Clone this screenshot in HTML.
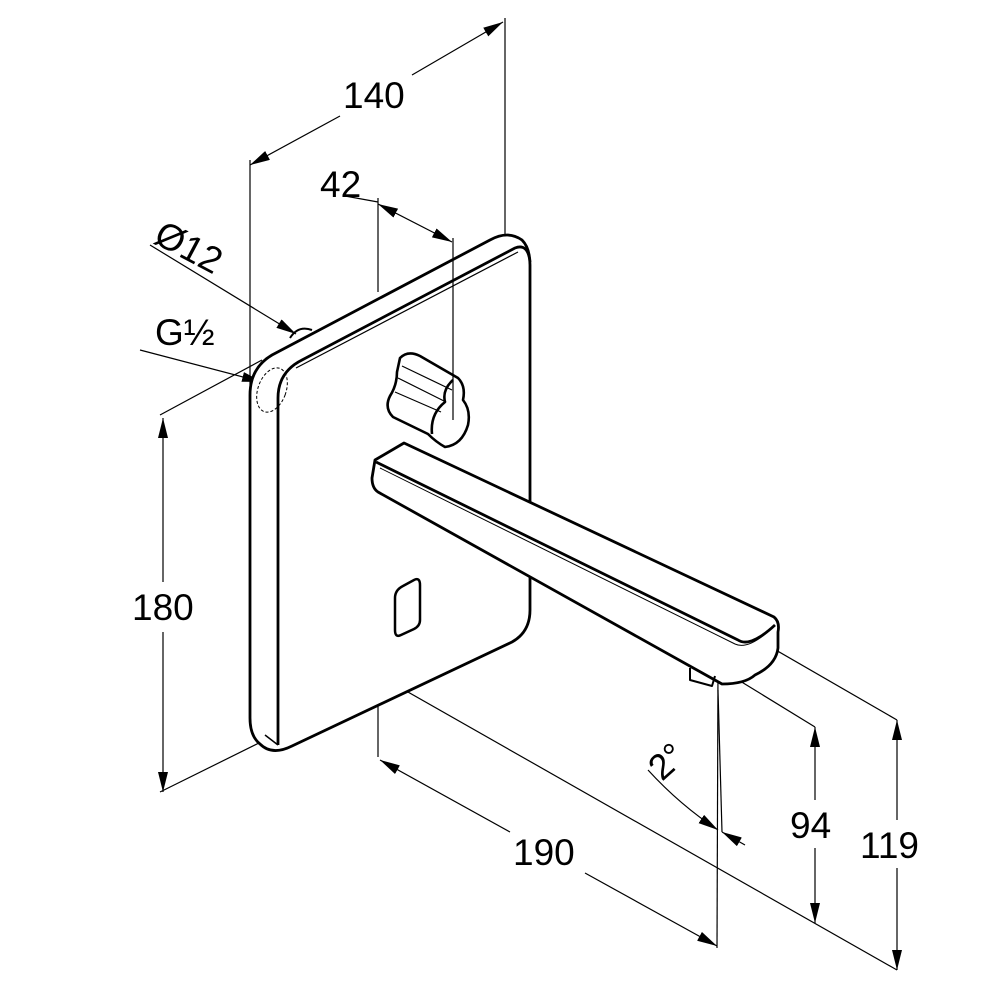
<!DOCTYPE html>
<html><head><style>html,body{margin:0;padding:0;background:#fff}svg{display:block}text{font-family:"Liberation Sans",Arial,sans-serif;fill:#000}</style></head>
<body>
<svg width="1000" height="1000" viewBox="0 0 1000 1000" xmlns="http://www.w3.org/2000/svg">
<defs>
<marker id="a" viewBox="0 0 20 10" refX="20" refY="5" markerWidth="20" markerHeight="10" markerUnits="userSpaceOnUse" orient="auto-start-reverse"><path d="M0,0 L20,5 L0,10 Z" fill="#000"/></marker>
</defs>
<g fill="none" stroke="#000">
<g stroke-width="1.2">
<line x1="250" y1="160" x2="250" y2="385"/>
<line x1="505" y1="18" x2="505" y2="238"/>
<line x1="378" y1="198" x2="378" y2="292"/>
<line x1="160" y1="415" x2="262" y2="360"/>
<line x1="160" y1="792" x2="265" y2="740"/>
<line x1="378" y1="672" x2="378" y2="757"/>
<line x1="378" y1="675" x2="897" y2="970"/>
<line x1="718" y1="668" x2="717" y2="948"/>
<line x1="718" y1="690" x2="722" y2="832"/>
<line x1="740" y1="681" x2="815" y2="727"/>
<line x1="762" y1="642" x2="897" y2="720"/>
<line x1="345" y1="196" x2="378" y2="202"/>
</g>
<g stroke-width="1.2">
<line x1="250" y1="165" x2="340" y2="116" marker-start="url(#a)"/>
<line x1="412" y1="75" x2="503" y2="22" marker-end="url(#a)"/>
<line x1="378" y1="204" x2="452" y2="242" marker-start="url(#a)" marker-end="url(#a)"/>
<line x1="150" y1="245" x2="296" y2="334" marker-end="url(#a)"/>
<line x1="140" y1="350" x2="262" y2="382" marker-end="url(#a)"/>
<line x1="163" y1="418" x2="163" y2="582" marker-start="url(#a)"/>
<line x1="163" y1="632" x2="163" y2="792" marker-end="url(#a)"/>
<line x1="380" y1="760" x2="510" y2="832" marker-start="url(#a)"/>
<line x1="585" y1="873" x2="717" y2="946" marker-end="url(#a)"/>
<line x1="815" y1="727" x2="815" y2="800" marker-start="url(#a)"/>
<line x1="815" y1="848" x2="815" y2="923" marker-end="url(#a)"/>
<line x1="897" y1="720" x2="897" y2="820" marker-start="url(#a)"/>
<line x1="897" y1="868" x2="897" y2="970" marker-end="url(#a)"/>
<path d="M648,770 Q680,805 718,830" marker-end="url(#a)"/>
<line x1="745" y1="845" x2="722" y2="832" marker-end="url(#a)"/>
</g>
<g stroke-width="2.8" stroke-linejoin="round">
<path d="M250,395 Q250,368 272,355 L490,240 Q508,230 522,240 Q530,248 530,265 L530,610 Q530,632 512,642 L292,746 Q272,756 260,744 Q250,736 250,718 Z" fill="#fff"/>
<path d="M278,745 L278,398 Q278,372 302,360 L515,248 Q528,243 530,262"/>
<line x1="265" y1="735" x2="278" y2="745" stroke-width="1.5"/>
</g>
<path d="M296,368 L518,252" stroke-width="1.2"/>
<ellipse cx="272" cy="390" rx="14" ry="23" transform="rotate(20 272 390)" stroke-width="1" stroke-dasharray="3,2"/>
<path d="M290,338 Q298,325 312,330" stroke-width="2"/>
<path d="M395,598 Q395,590 403,586 L414,580 Q420,577 420,585 L420,620 Q420,626 414,629 L401,635 Q395,638 395,630 Z" stroke-width="2.5"/>
<g stroke-width="2.8" stroke-linejoin="round">
<path d="M375,460 L404,443 L774,617 Q780,622 778,632 L778,648 Q776,665 755,675 Q745,684 722,684 L378,492 Q372,488 372,478 Z" fill="#fff"/>
<path d="M376,462 L738,640 Q750,648 775,625"/>
<path d="M690,668 L690,680 L712,686 L715,676" stroke-width="2"/>
</g>
<path d="M380,468 L735,644 Q748,650 770,630" stroke-width="1"/>
<g stroke-width="2.6" stroke-linejoin="round">
<path d="M400,358 Q408,350 420,356 L458,378 Q466,386 463,400 Q471,410 468,425 Q462,445 445,447 Q436,442 428,434 L393,417 Q384,408 390,396 Q397,385 397,372 Z" fill="#fff"/>
<path d="M453,380 Q442,390 445,402 Q430,414 432,434"/>
</g>
<path d="M402,366 L452,390 M398,378 L446,402 M395,392 L441,412" stroke-width="1.2"/>
<line x1="453" y1="238" x2="453" y2="420" stroke-width="1.2"/>
</g>
<g font-size="37">
<text x="343" y="108">140</text>
<text x="320" y="197">42</text>
<text x="132" y="620">180</text>
<text x="513" y="865">190</text>
<text x="790" y="838">94</text>
<text x="860" y="858">119</text>
<text x="0" y="0" transform="translate(152,242) rotate(28)">Ø12</text>
<text x="155" y="345">G½</text>
<text x="0" y="0" transform="translate(662,782) rotate(-42)" font-size="36">2°</text>
</g>
</svg>
</body></html>
